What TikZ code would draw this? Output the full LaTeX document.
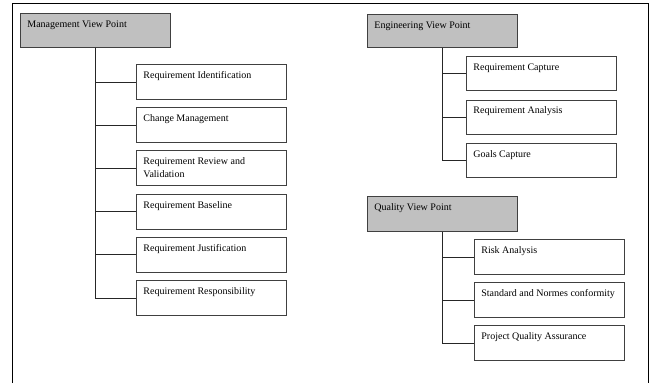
\documentclass[tikz,border=0pt]{standalone}
\usepackage{fontspec}
\setmainfont{Liberation Serif}
\usepackage{xcolor}
\usepackage{tikz}

\definecolor{headfill}{RGB}{192,192,192}
\newcommand{\boxtxt}[2]{\parbox[t][#1][t]{136pt}{\raggedright\rule{0pt}{14pt}#2}}

\begin{document}
\begin{tikzpicture}[x=1pt,y=-1pt,
  vpoint/.style={draw=black!75,line width=0.8pt,fill=headfill,anchor=north west,inner xsep=7pt,inner ysep=0pt,font=\fontsize{10}{13}\selectfont},
  vitem/.style={draw=black!75,line width=0.8pt,fill=white,anchor=north west,inner xsep=7pt,inner ysep=0pt,font=\fontsize{10}{13}\selectfont},
  link/.style={draw=black!85,line width=0.8pt}]
  \useasboundingbox (0,0) rectangle (652,383);
  \draw[line width=0.8pt] (12,383) -- (12,3) -- (648,3) -- (648,383);

  % management
  \node[vpoint] (mvp) at (20,13) {\boxtxt{34pt}{Management View Point}};
  \foreach \t/\y [count=\i] in {Requirement Identification/64, Change Management/107.2,
      Requirement Review and Validation/150.4, Requirement Baseline/193.6,
      Requirement Justification/236.8, Requirement Responsibility/280} {
    \node[vitem] (mvp\i) at (136,\y) {\boxtxt{35pt}{\t}};
    \draw[link] (mvp.south) |- (mvp\i.west);
  }

  % engineering
  \node[vpoint] (evp) at (367,14) {\boxtxt{33pt}{Engineering View Point}};
  \foreach \t/\y [count=\i] in {Requirement Capture/56, Requirement Analysis/99.5, Goals Capture/143} {
    \node[vitem] (evp\i) at (466,\y) {\boxtxt{34pt}{\t}};
    \draw[link] (evp.south) |- (evp\i.west);
  }

  % quality
  \node[vpoint] (qvp) at (367,196) {\boxtxt{35pt}{Quality View Point}};
  \foreach \t/\y [count=\i] in {Risk Analysis/239, Standard and Normes conformity/282, Project Quality Assurance/325} {
    \node[vitem] (qvp\i) at (474,\y) {\boxtxt{35pt}{\t}};
    \draw[link] (qvp.south) |- (qvp\i.west);
  }
\end{tikzpicture}
\end{document}
